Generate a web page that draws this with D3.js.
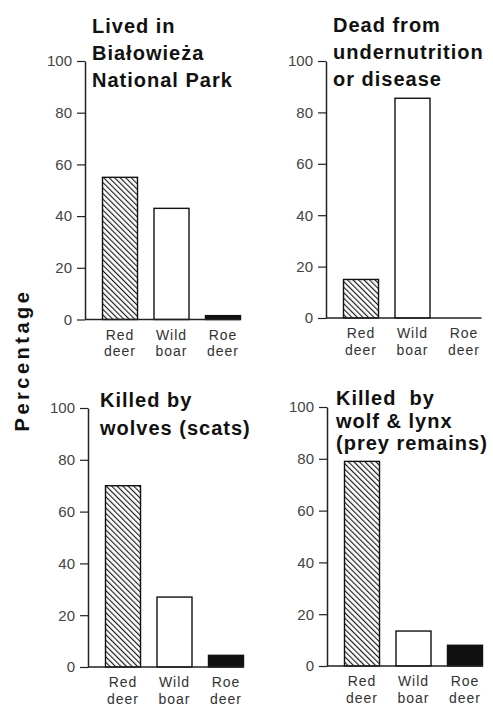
<!DOCTYPE html>
<html>
<head>
<meta charset="utf-8">
<script src="https://cdn.jsdelivr.net/npm/d3@7"></script>
<style>
  body { margin: 0; background: #fff; }
  text { font-family: "Liberation Sans", Arial, sans-serif; }
</style>
</head>
<body>
<div id="chart"></div>
<script>
// data
var categories = ["Red deer", "Wild boar", "Roe deer"];
var yTicks = [0, 20, 40, 60, 80, 100];

var titleLived = ["Lived in", "Białowieża", "National Park"];
var titleDead = ["Dead from", "undernutrition", "or disease"];
var titleScats = ["Killed by", "wolves (scats)"];
var titleRemains = ["Killed  by", "wolf & lynx", "(prey remains)"];

var livedInPark = [55, 43, 1.5];
var deadUndernutrition = [15, 85.5, 0];
var killedScats = [70, 27, 4.5];
var killedRemains = [79, 13.5, 8];

// panel placement
var panels = [
    { title: titleLived, values: livedInPark, x: 85, y0: 319.5, y100: 61, tx: 7, ty: -28, lh: 27 },
    { title: titleDead, values: deadUndernutrition, x: 326, y0: 318, y100: 61, tx: 7, ty: -29, lh: 27 },
    { title: titleScats, values: killedScats, x: 88, y0: 667, y100: 408, tx: 12, ty: -1, lh: 28 },
    { title: titleRemains, values: killedRemains, x: 327, y0: 666, y100: 407, tx: 9, ty: -2, lh: 22.5 }
];

var svgWidth = 493;
var svgHeight = 706;

var svg = d3.select("#chart")
    .append("svg")
    .attr("width", svgWidth)
    .attr("height", svgHeight);

// hatch for red deer
var defs = svg.append("defs");
defs.append("pattern")
    .attr("id", "hatch")
    .attr("patternUnits", "userSpaceOnUse")
    .attr("width", 3.9)
    .attr("height", 10)
    .attr("patternTransform", "rotate(-45)")
    .append("line")
    .attr("x1", 0.6).attr("y1", 0)
    .attr("x2", 0.6).attr("y2", 10)
    .attr("stroke", "#111")
    .attr("stroke-width", 1.1);

var fills = ["url(#hatch)", "#fff", "#111"];

var xScale = d3.scaleBand()
    .domain(categories)
    .range([17.5, 155.5])
    .paddingInner(0.32)
    .paddingOuter(0);

panels.forEach(function (p) {
    var g = svg.append("g")
        .attr("transform", `translate(${p.x}, 0)`);

    var yScale = d3.scaleLinear()
        .domain([0, 100])
        .range([p.y0, p.y100]);

    // bars
    g.selectAll("rect.bar")
        .data(categories.filter(function (c, i) { return p.values[i] > 0; }))
        .enter()
        .append("rect")
        .attr("class", "bar")
        .attr("x", d => xScale(d))
        .attr("y", d => yScale(p.values[categories.indexOf(d)]))
        .attr("width", xScale.bandwidth())
        .attr("height", d => p.y0 - yScale(p.values[categories.indexOf(d)]))
        .attr("fill", d => fills[categories.indexOf(d)])
        .attr("stroke", "#111")
        .attr("stroke-width", 1.4);

    // baseline
    g.append("line")
        .attr("x1", 0)
        .attr("x2", xScale.range()[1])
        .attr("y1", yScale(0))
        .attr("y2", yScale(0))
        .attr("stroke", "#222")
        .attr("stroke-width", 1.5);

    // y axis
    var leftAxis = d3.axisLeft(yScale)
        .tickValues(yTicks)
        .tickSize(8)
        .tickSizeOuter(0)
        .tickPadding(5);

    var ax = g.append("g").call(leftAxis);
    ax.select(".domain").attr("stroke", "#222").attr("stroke-width", 1.5);
    ax.selectAll(".tick line").attr("stroke", "#222").attr("stroke-width", 1.2);
    ax.selectAll(".tick text")
        .attr("fill", "#444")
        .style("font-size", "15px")
        .style("font-family", "'Liberation Sans', Arial, sans-serif");

    // category labels, two lines each
    [0, 1].forEach(function (row) {
        g.selectAll("text.cat" + row)
            .data(categories)
            .enter()
            .append("text")
            .attr("class", "cat" + row)
            .attr("text-anchor", "middle")
            .attr("x", d => xScale(d) + xScale.bandwidth() / 2)
            .attr("y", p.y0 + 20 + row * 16.5)
            .attr("fill", "#333")
            .style("font-size", "14px")
            .style("letter-spacing", "1px")
            .text(d => d.split(" ")[row]);
    });

    // panel title
    p.title.forEach(function (line, i) {
        g.append("text")
            .attr("x", p.tx)
            .attr("y", p.y100 + p.ty + i * p.lh)
            .attr("fill", "#111")
            .style("font-size", "20px")
            .style("font-weight", "bold")
            .style("letter-spacing", "1px")
            .style("white-space", "pre")
            .text(line);
    });
});

// y axis label
svg.append("text")
    .attr("transform", "translate(29, 360) rotate(-90)")
    .attr("text-anchor", "middle")
    .attr("fill", "#111")
    .style("font-size", "20px")
    .style("font-weight", "bold")
    .style("letter-spacing", "3.5px")
    .text("Percentage");
</script>
</body>
</html>
